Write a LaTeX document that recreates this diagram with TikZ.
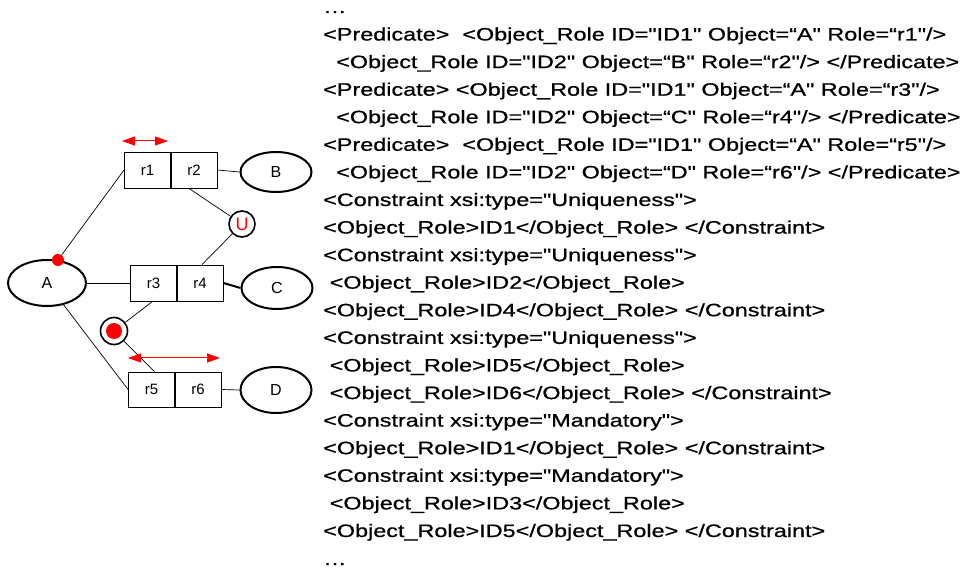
\documentclass[tikz,border=0pt]{standalone}
\usepackage{fontspec}
\setmainfont{Liberation Sans}
\newfontfamily\xmlfont{Liberation Sans}[FakeStretch=1.3,FakeBold=0.8]
\newcommand{\qt}{\symbol{34}}
\usetikzlibrary{arrows.meta,shapes.geometric}

\begin{document}
\begin{tikzpicture}[x=1pt,y=-1pt,
  role/.style={draw,line width=0.9pt,minimum width=46pt,minimum height=36pt,inner sep=0pt,
    font=\fontsize{15}{15}\selectfont},
  entity/.style={draw,ellipse,line width=2pt,inner sep=0pt,font=\fontsize{16}{16}\selectfont},
  link/.style={line width=0.7pt},
  span/.style={red,line width=1pt,{Triangle[length=13pt,width=9pt]}-{Triangle[length=13pt,width=9pt]}},
  ring/.style={circle,draw,line width=1.6pt,inner sep=0pt,minimum size=26pt},
  xml/.style={anchor=base west,inner sep=0pt,font=\xmlfont\fontsize{18}{18}\selectfont}
]
\useasboundingbox (0,0) rectangle (967,569);

% object types
\node[entity,minimum width=78pt,minimum height=46pt] (A) at (47,283) {A};
\node[entity,minimum width=71pt,minimum height=40pt] (B) at (276,172) {B};
\node[entity,minimum width=71pt,minimum height=42pt] (C) at (277,288) {C};
\node[entity,minimum width=71pt,minimum height=46pt] (D) at (276,390) {D};

% predicates with their roles
\node[role] (r1) at (147.5,170) {r1};
\node[role] (r2) at (194,170) {r2};
\node[role] (r3) at (153.5,283) {r3};
\node[role] (r4) at (200,283) {r4};
\node[role,minimum height=35pt] (r5) at (151.5,389.5) {r5};
\node[role,minimum height=35pt] (r6) at (198,389.5) {r6};

% constraint markers
\node[circle,fill=red,inner sep=0pt,minimum size=12pt] (mA) at (58,260) {};
\node[ring,text=red,font=\fontsize{18}{18}\selectfont] (U) at (242,224) {U};
\node[ring,minimum size=27pt,
  path picture={\fill[red] (path picture bounding box.center) circle (8pt);}] (M) at (114,331) {};

% role connectors
\draw[link] (mA) -- (r1.west);
\draw[link] (A.east) -- (r3.west);
\draw[link] (A) -- (r5.west);
\draw[link] (r2.east) -- (B.west);
\draw[line width=2pt] (r4.east) -- (C.west);
\draw[link] (r6.east) -- (D.west);
\draw[link] ([xshift=-5pt]r2.south) -- (U);
\draw[link] (U) -- ([xshift=2pt]r4.north);
\draw[link] ([xshift=-1pt]r3.south) -- (M);
\draw[link] (M) -- ([xshift=3pt]r5.north);

% uniqueness spans
\coordinate (ua) at (122,141);
\coordinate (ub) at (168,141);
\coordinate (va) at (128,358);
\coordinate (vb) at (220,358);
\draw[span] (ua) -- (ub);
\draw[span] (va) -- (vb);

% XML listing
\node[xml,text height=3pt] (t0) at (323,13) {…};
\node[xml] (t1) at (323,40.5) {<Predicate>~~<Object\_Role ID=\qt ID1\qt\ Object=“A\qt\ Role=“r1\qt/>};
\node[xml] (t2) at (323,68.1) {~~<Object\_Role ID=\qt ID2\qt\ Object=“B\qt\ Role=“r2\qt/> </Predicate>};
\node[xml] (t3) at (323,95.7) {<Predicate> <Object\_Role ID=\qt ID1\qt\ Object=“A\qt\ Role=“r3\qt/>};
\node[xml] (t4) at (323,123.2) {~~<Object\_Role ID=\qt ID2\qt\ Object=“C\qt\ Role=“r4\qt/> </Predicate>};
\node[xml] (t5) at (323,150.8) {<Predicate>~~<Object\_Role ID=\qt ID1\qt\ Object=“A\qt\ Role=“r5\qt/>};
\node[xml] (t6) at (323,178.4) {~~<Object\_Role ID=\qt ID2\qt\ Object=“D\qt\ Role=“r6\qt/> </Predicate>};
\node[xml] (t7) at (323,206.0) {<Constraint xsi:type=\qt Uniqueness\qt>};
\node[xml] (t8) at (323,233.6) {<Object\_Role>ID1</Object\_Role> </Constraint>};
\node[xml] (t9) at (323,261.2) {<Constraint xsi:type=\qt Uniqueness\qt>};
\node[xml] (t10) at (323,288.7) {~<Object\_Role>ID2</Object\_Role>};
\node[xml] (t11) at (323,316.3) {<Object\_Role>ID4</Object\_Role> </Constraint>};
\node[xml] (t12) at (323,343.9) {<Constraint xsi:type=\qt Uniqueness\qt>};
\node[xml] (t13) at (323,371.5) {~<Object\_Role>ID5</Object\_Role>};
\node[xml] (t14) at (323,399.1) {~<Object\_Role>ID6</Object\_Role> </Constraint>};
\node[xml] (t15) at (323,426.6) {<Constraint xsi:type=\qt Mandatory\qt>};
\node[xml] (t16) at (323,454.2) {<Object\_Role>ID1</Object\_Role> </Constraint>};
\node[xml] (t17) at (323,481.8) {<Constraint xsi:type=\qt Mandatory\qt>};
\node[xml] (t18) at (323,509.4) {~<Object\_Role>ID3</Object\_Role>};
\node[xml] (t19) at (323,537.0) {<Object\_Role>ID5</Object\_Role> </Constraint>};
\node[xml,text height=3pt] (t20) at (323,565) {…};
\end{tikzpicture}
\end{document}
